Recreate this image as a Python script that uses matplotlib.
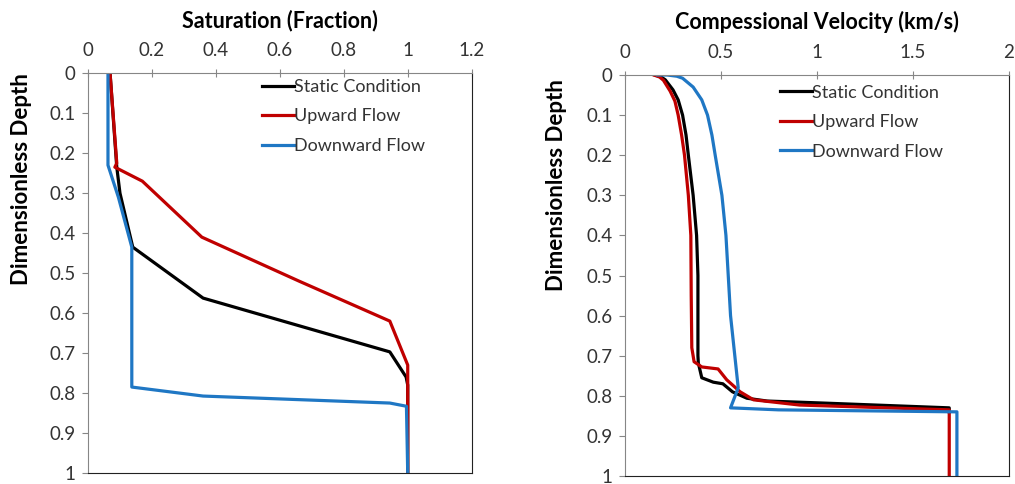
import matplotlib
matplotlib.use("Agg")
import matplotlib.pyplot as plt

plt.rcParams['font.family'] = ['Lato', 'DejaVu Sans']

# saturation profiles (fraction vs dimensionless depth)
sat_static = [0.069, 0.09, 0.10, 0.14, 0.36, 0.944, 0.995, 1.0, 1.0]
dep_static = [0.0, 0.235, 0.30, 0.435, 0.5625, 0.697, 0.76, 0.78, 1.0]

sat_up = [0.069, 0.09, 0.084, 0.17, 0.356, 0.66, 0.944, 1.0, 1.0, 1.0]
dep_up = [0.0, 0.225, 0.235, 0.27, 0.41, 0.52, 0.62, 0.73, 0.83, 1.0]

sat_down = [0.0625, 0.0625, 0.095, 0.137, 0.137, 0.36, 0.944, 0.996, 1.0]
dep_down = [0.0, 0.23, 0.31, 0.435, 0.785, 0.8075, 0.825, 0.833, 1.0]

# compressional velocity profiles (km/s vs dimensionless depth)
vp_static = [0.156, 0.185, 0.21, 0.25, 0.277, 0.30, 0.318, 0.33, 0.355, 0.373, 0.38,
             0.38, 0.382, 0.40, 0.46, 0.51, 0.56, 0.635, 0.74, 1.03, 1.69, 1.69]
dv_static = [0.0, 0.004, 0.012, 0.037, 0.062, 0.10, 0.15, 0.20, 0.30, 0.40, 0.50,
             0.70, 0.718, 0.755, 0.766, 0.77, 0.79, 0.806, 0.813, 0.818, 0.83, 0.84]

vp_up = [0.15, 0.18, 0.20, 0.235, 0.26, 0.277, 0.295, 0.31, 0.33, 0.343, 0.345,
         0.348, 0.36, 0.40, 0.485, 0.53, 0.60, 0.67, 0.91, 1.69, 1.69]
dv_up = [0.0, 0.005, 0.013, 0.04, 0.065, 0.10, 0.15, 0.20, 0.30, 0.40, 0.55,
         0.68, 0.715, 0.728, 0.733, 0.76, 0.79, 0.81, 0.823, 0.835, 1.0]

vp_down = [0.17, 0.22, 0.27, 0.30, 0.355, 0.40, 0.43, 0.453, 0.47, 0.505, 0.526,
           0.55, 0.59, 0.55, 0.80, 1.73, 1.73]
dv_down = [0.0, 0.0, 0.003, 0.008, 0.03, 0.062, 0.10, 0.15, 0.20, 0.30, 0.40,
           0.60, 0.78, 0.83, 0.835, 0.84, 1.0]

labels = ['Static Condition', 'Upward Flow', 'Downward Flow']
colors = ['black', '#C00000', '#1F77C4']

fig = plt.figure(figsize=(10.15, 4.84), dpi=100)
ax1 = fig.add_axes([0.0867, 0.0227, 0.378, 0.826])
ax2 = fig.add_axes([0.6158, 0.0165, 0.378, 0.8285])

ax1.plot(sat_static, dep_static, color=colors[0], lw=2.3, label=labels[0])
ax1.plot(sat_up, dep_up, color=colors[1], lw=2.3, label=labels[1])
ax1.plot(sat_down, dep_down, color=colors[2], lw=2.3, label=labels[2])

ax2.plot(vp_static, dv_static, color=colors[0], lw=2.3, label=labels[0])
ax2.plot(vp_up, dv_up, color=colors[1], lw=2.3, label=labels[1])
ax2.plot(vp_down, dv_down, color=colors[2], lw=2.3, label=labels[2])

for ax, xmax, xstep, title, xticklab, anchor, ylab_xy in [
        (ax1, 1.2, 0.2, 'Saturation (Fraction)', ['0', '0.2', '0.4', '0.6', '0.8', '1', '1.2'],
         (0.445, 0.995), (-0.145, 0.735)),
        (ax2, 2.0, 0.5, 'Compessional Velocity (km/s)', ['0', '0.5', '1', '1.5', '2'],
         (0.395, 0.985), (-0.152, 0.726))]:
    ax.set_xlim(0, xmax)
    ax.set_ylim(1, 0)
    ax.set_xticks([i * xstep for i in range(len(xticklab))])
    ax.set_xticklabels(xticklab)
    ax.set_yticks([i / 10 for i in range(11)])
    ax.set_yticklabels(['0'] + ['0.%d' % i for i in range(1, 10)] + ['1'])
    ax.xaxis.tick_top()
    ax.xaxis.set_label_position('top')
    ax.set_xlabel(title, fontsize=15.5, fontweight='bold', labelpad=11)
    ax.set_ylabel('Dimensionless Depth', fontsize=16, fontweight='bold')
    ax.yaxis.set_label_coords(*ylab_xy)
    ax.tick_params(axis='x', direction='inout', length=6, color='#868686',
                   labelsize=13.5, labelcolor='#333333', pad=7)
    ax.tick_params(axis='y', direction='out', length=4, color='#868686',
                   labelsize=13.5, labelcolor='#333333', pad=5)
    ax.spines['top'].set_color('#868686')
    ax.spines['left'].set_color('#868686')
    ax.spines['right'].set_color('#222222')
    ax.spines['bottom'].set_color('#222222')
    leg = ax.legend(loc='upper left', bbox_to_anchor=anchor, frameon=False,
                    fontsize=13, handlelength=1.75, handletextpad=0.0,
                    labelspacing=0.75, borderaxespad=0.0, borderpad=0.2)
    for t in leg.get_texts():
        t.set_color('#333333')

fig.savefig('out.png', dpi=100)
